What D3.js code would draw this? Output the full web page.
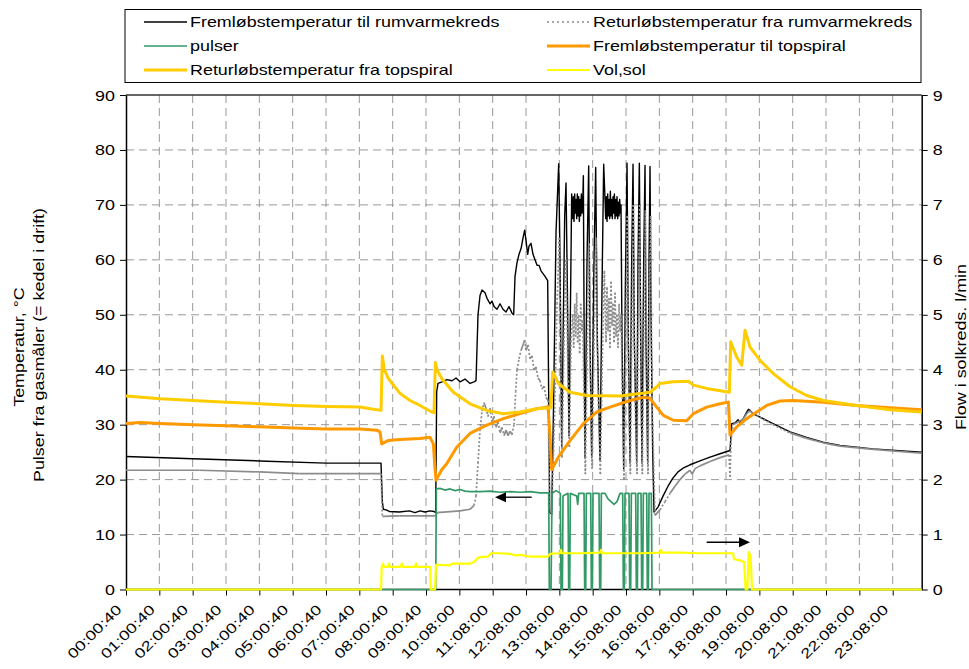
<!DOCTYPE html>
<html><head><meta charset="utf-8">
<script src="https://cdn.jsdelivr.net/npm/d3@7"></script>
<style>
body{margin:0;background:#fff}
svg{display:block}
text{font-family:"Liberation Sans",Arial,sans-serif;font-size:14px;fill:#000}
</style>
</head><body><svg id="c" width="969" height="669"></svg>
<script>
// ---------- DATA (t = hours along category axis, value) ----------
const xTickLabels = ["00:00:40","01:00:40","02:00:40","03:00:40","04:00:40","05:00:40","06:00:40","07:00:40","08:00:40","09:00:40","10:08:00","11:08:00","12:08:00","13:08:00","14:08:00","15:08:00","16:08:00","17:08:00","18:08:00","19:08:00","20:08:00","21:08:00","22:08:00","23:08:00"];
const leftTicks = [0,10,20,30,40,50,60,70,80,90];
const rightTicks = [0,1,2,3,4,5,6,7,8,9];
const seriesNames = ["Fremløbstemperatur til rumvarmekreds","Returløbstemperatur fra rumvarmekreds","pulser","Fremløbstemperatur til topspiral","Returløbstemperatur fra topspiral","Vol,sol"];

const fremRum = [[0,24.2],[2,23.8],[4,23.4],[6,23.0],[7.65,23.0],[7.69,16],[7.72,14.6],[7.8,14.5],[7.9,14.2],[8.2,14.1],[8.5,14.3],[8.67,14.0],[8.82,14.3],[8.97,14.1],[9.12,14.3],[9.24,14.2],[9.29,14.0],[9.32,36],[9.36,37.5],[9.48,37.8],[9.63,38.2],[9.78,38.0],[9.90,38.5],[10.02,37.8],[10.17,38.3],[10.32,37.5],[10.44,37.8],[10.50,38.0],[10.53,44],[10.56,50],[10.62,53.5],[10.68,54.5],[10.77,54],[10.83,53],[10.92,52],[10.98,52.5],[11.04,51.5],[11.13,51],[11.22,52],[11.31,51],[11.40,50.5],[11.49,51.5],[11.58,50.3],[11.63,50.0],[11.67,57],[11.73,59.5],[11.79,61],[11.85,62],[11.91,64],[11.96,65.4],[12.00,63.5],[12.05,61],[12.09,62.5],[12.15,63],[12.21,61],[12.27,60],[12.33,59],[12.39,59],[12.45,58],[12.51,57.5],[12.57,57],[12.65,56.2],
[12.71,14],[12.77,13.8],[12.83,35],[12.90,65],[12.98,77.5],[13.02,60],[13.07,26],[13.10,40],[13.16,68],[13.20,74],[13.24,55],[13.29,28],[13.33,50],[13.37,72],
[13.40,67.5],[13.42,71.5],[13.44,67],[13.46,72],[13.48,68.5],[13.50,71],[13.52,67.5],[13.54,72],[13.56,68],[13.58,71.5],[13.60,67],[13.62,71],[13.64,68],[13.66,72],[13.68,68.5],[13.70,70],
[13.72,75.3],[13.745,45],[13.77,24],[13.83,60],[13.88,77.1],[13.92,45],[13.97,24],[14.04,60],[14.09,76.8],[14.14,45],[14.22,23.5],[14.28,55],[14.33,77.4],[14.37,71],
[14.39,67.5],[14.41,71.5],[14.43,67],[14.45,72],[14.47,68],[14.49,71],[14.51,67.5],[14.53,72.5],[14.55,68],[14.57,71],[14.59,67.5],[14.61,71.5],[14.63,68.5],[14.65,72],[14.67,67.5],[14.69,71],[14.71,68],[14.73,71.5],[14.75,67.5],[14.77,70.5],[14.79,68],[14.81,71],[14.83,68.5],[14.85,70],
[14.88,45],[14.93,22],[14.98,55],[15.03,77.6],[15.07,45],[15.12,23],[15.17,60],[15.21,77.4],[15.25,45],[15.32,23],[15.36,60],[15.40,77.6],[15.44,45],[15.48,23],[15.53,60],[15.57,77.2],[15.60,45],[15.65,23],[15.69,60],[15.72,77],[15.75,50],[15.80,25],[15.84,14.1],
[15.96,15],[16.11,17],[16.26,18.8],[16.41,20.3],[16.56,21.4],[16.74,22.2],[16.92,22.7],[17.22,23.4],[17.52,24.1],[17.82,24.7],[18.12,25.3],[18.17,30.2],[18.27,30.3],[18.36,30.9],[18.42,30.4],[18.51,31],[18.62,32.3],[18.67,32.8],[18.72,32.6],[18.81,32],[19.41,30.2],[19.92,28.7],[20.42,27.7],[20.91,26.8],[21.42,26.2],[22.41,25.6],[23.87,25.0]];

const returRum = [[0,21.7],[2.2,21.7],[4.0,21.4],[5.2,21.1],[7.65,21.1],[7.69,13.3],[8.2,13.4],[9.29,13.4],[9.33,14.0],[10.02,14.3],[10.32,14.6],[10.44,15.3],[10.50,17],[10.56,23],[10.62,29],[10.68,32.5],[10.74,34],[10.80,33],[10.86,31.5],[10.92,33],[10.98,30.5],[11.04,31.5],[11.10,29.5],[11.16,30.5],[11.22,28.5],[11.28,29.5],[11.34,28],[11.40,29],[11.46,28],[11.52,28.8],[11.58,28.2],[11.64,30],[11.69,36],[11.73,40],[11.79,42],[11.85,43.5],[11.91,44.5],[11.96,45.4],[12.00,43.5],[12.06,44.5],[12.12,42],[12.18,42.5],[12.24,40],[12.30,40.5],[12.36,38.5],[12.42,38],[12.48,36.5],[12.54,37],[12.60,35],[12.66,34.4],
[12.71,15],[12.77,13.5],[12.85,30],[12.93,52],[13.00,64],[13.04,45],[13.08,24],[13.14,45],[13.20,60],[13.26,38],[13.30,26],[13.35,45],
[13.40,50],[13.43,44],[13.46,52],[13.49,46],[13.52,54],[13.55,45],[13.58,50],[13.61,43],[13.64,52],[13.67,47],[13.70,49],
[13.74,35],[13.78,21],[13.84,45],[13.89,63],[13.94,36],[13.98,22],[14.05,48],[14.10,64],[14.16,36],[14.23,21],[14.30,45],[14.35,58],
[14.40,45],[14.43,55],[14.46,47],[14.49,53],[14.52,44],[14.55,56],[14.58,48],[14.61,52],[14.64,45],[14.67,54],[14.70,46],[14.73,50],[14.76,44],[14.79,52],[14.82,47],[14.85,50],
[14.89,35],[14.94,20],[14.99,45],[15.04,68],[15.08,35],[15.13,21],[15.18,50],[15.22,70],[15.27,35],[15.33,21],[15.37,50],[15.41,70],[15.45,35],[15.49,21],[15.54,50],[15.58,69],[15.62,35],[15.66,21],[15.70,55],[15.74,68],[15.78,35],[15.87,13.5],
[16.02,14.5],[16.17,16],[16.32,17.5],[16.47,18.8],[16.62,20],[16.77,21],[16.92,21.7],[16.98,21],[17.07,22],[17.22,22.5],[17.52,23.3],[17.82,24],[18.09,24.5],[18.12,20.5],[18.15,27],[18.21,30],[18.36,30.5],[18.51,31],[18.62,32],[18.72,32.5],[18.81,32],[19.41,30],[19.92,28.5],[20.42,27.5],[20.91,26.7],[21.42,26.1],[22.41,25.5],[23.87,24.8]];

const pulser = [[0,0],[9.29,0],[9.31,18.3],[9.42,18.4],[9.57,18.1],[9.72,18.3],[9.87,18.0],[10.02,18.2],[10.17,17.9],[10.32,17.8],[10.62,17.8],[10.92,17.9],[11.22,17.7],[11.52,17.8],[11.82,17.7],[12.12,17.8],[12.42,17.6],[12.68,17.6],
[12.70,0],[12.75,0],[12.78,17.5],[12.90,18],[13.03,17.5],[13.05,0],[13.09,0],[13.11,17],[13.26,17.5],[13.28,0],[13.31,0],[13.33,17.5],[13.52,17],[13.55,15.5],[13.58,17.5],[13.74,17.5],[13.76,0],[13.79,0],[13.81,17.5],[13.94,17.5],[13.96,0],[13.99,0],[14.01,17.5],[14.19,17.5],[14.21,0],[14.24,0],[14.26,17.5],[14.37,17.5],[14.46,16.5],[14.55,16],[14.64,15.5],[14.73,16],[14.82,17.5],[14.90,17.5],[14.92,0],[14.95,0],[14.97,17.5],[15.09,17.5],[15.11,0],[15.14,0],[15.16,17.5],[15.29,17.5],[15.31,0],[15.34,0],[15.36,17.5],[15.45,17.5],[15.47,0],[15.50,0],[15.52,17.5],[15.62,17.5],[15.64,0],[15.67,0],[15.69,17.5],[15.76,17.5],[15.78,0],[23.87,0]];

const fremTop = [[0,30.2],[0.42,30.4],[1.02,30.2],[2.02,30.0],[3.02,29.8],[4.02,29.6],[5.02,29.4],[6.02,29.2],[7.02,29.2],[7.52,29.0],[7.62,28.7],[7.67,26.5],[7.86,27.1],[8.22,27.3],[8.82,27.5],[9.12,27.7],[9.22,26.5],[9.27,22],[9.30,19.9],[9.47,21.8],[9.62,22.9],[9.92,25.9],[10.32,28.4],[10.82,29.9],[11.32,31.1],[11.82,32.0],[12.32,32.9],[12.66,33.2],[12.72,28],[12.77,21.8],[12.97,24.1],[13.32,27.1],[13.72,30.2],[14.12,32.3],[14.52,33.2],[15.12,34.4],[15.52,35.0],[15.72,34.8],[15.92,33.2],[16.12,31.7],[16.42,30.8],[16.82,30.7],[17.02,32.0],[17.42,33.2],[17.82,33.8],[18.07,34.1],[18.12,28.1],[18.32,29.6],[18.62,31.1],[18.92,32.3],[19.22,33.5],[19.62,34.3],[20.02,34.4],[20.92,34.1],[21.92,33.5],[22.92,33.1],[23.87,32.7]];

const returTop = [[0,35.2],[1.02,34.7],[2.02,34.4],[3.02,34.1],[4.02,33.8],[5.02,33.5],[6.02,33.3],[7.02,33.2],[7.32,32.9],[7.65,32.6],[7.69,42.5],[7.75,40],[7.86,38.5],[7.92,38],[8.22,35.7],[8.52,34.4],[8.82,33.5],[9.17,32.3],[9.24,32.2],[9.28,41.3],[9.33,40],[9.47,38.4],[9.82,35.9],[10.32,33.8],[10.82,32.6],[11.32,32.0],[11.82,32.3],[12.32,32.9],[12.75,33.1],[12.80,39.6],[12.97,37.5],[13.32,35.9],[13.82,35.3],[14.82,35.2],[15.72,35.9],[15.92,36.9],[16.02,37.5],[16.42,37.8],[16.87,37.9],[17.02,37.2],[17.42,36.6],[18.10,35.9],[18.14,45.1],[18.32,42.3],[18.47,40.8],[18.57,47.2],[18.72,44.1],[19.02,41.7],[19.42,39.3],[19.92,36.9],[20.42,35.3],[20.92,34.4],[21.92,33.5],[22.92,32.7],[23.87,32.3]];

const volSol = [[0,0],[7.65,0],[7.67,0.41],[7.71,0.47],[7.74,0.41],[7.86,0.41],[7.89,0.47],[7.92,0.41],[8.22,0.41],[8.28,0.47],[8.31,0.41],[8.67,0.41],[8.70,0.47],[8.73,0.41],[9.12,0.41],[9.14,0],[9.27,0],[9.30,0.45],[9.72,0.44],[9.78,0.47],[10.32,0.47],[10.44,0.5],[10.53,0.56],[10.62,0.59],[10.86,0.6],[10.95,0.66],[11.22,0.66],[11.52,0.65],[11.67,0.62],[11.82,0.63],[12.12,0.6],[12.30,0.6],[12.66,0.6],[12.72,0.65],[13.02,0.66],[13.05,0.72],[13.08,0.66],[13.62,0.66],[14.22,0.67],[14.25,0.72],[14.28,0.66],[14.82,0.66],[15.42,0.66],[16.02,0.67],[16.05,0.72],[16.08,0.67],[16.62,0.67],[17.22,0.66],[17.82,0.66],[18.21,0.66],[18.24,0.55],[18.42,0.53],[18.54,0.5],[18.59,0],[18.64,0],[18.68,0.68],[18.74,0.6],[18.78,0],[23.87,0]];

// ---------- LAYOUT ----------
const L=126, R=921.7, T=95, B=589.5, SX=1.28;
const x = d3.scaleLinear().domain([0,23.87]).range([L,R]);
const yL = d3.scaleLinear().domain([0,90]).range([B,T]);
const yR = d3.scaleLinear().domain([0,9]).range([B,T]);
const svg = d3.select("#c");

// gridlines
const grid = svg.append("g").attr("stroke","#999").attr("stroke-width",1).attr("stroke-dasharray","8,5");
grid.selectAll("line.h").data(leftTicks.filter(v=>v>0&&v<90)).join("line")
  .attr("x1",L).attr("x2",R).attr("y1",d=>yL(d)).attr("y2",d=>yL(d));
grid.selectAll("line.v").data(d3.range(1,24)).join("line")
  .attr("y1",T).attr("y2",B).attr("x1",d=>x(d)).attr("x2",d=>x(d));

// top border
svg.append("line").attr("x1",L).attr("x2",R).attr("y1",T).attr("y2",T).attr("stroke","#333").attr("stroke-width",1.5);

// axes
const axL = svg.append("g").attr("transform",`translate(${L},0)`)
  .call(d3.axisLeft(yL).tickValues(leftTicks).tickSize(6).tickSizeOuter(0).tickFormat(d3.format("d")));
const axR = svg.append("g").attr("transform",`translate(${R},0)`)
  .call(d3.axisRight(yR).tickValues(rightTicks).tickSize(6).tickSizeOuter(0).tickFormat(d3.format("d")));
const axB = svg.append("g").attr("transform",`translate(0,${B})`)
  .call(d3.axisBottom(x).tickValues(d3.range(0,24)).tickSize(6).tickSizeOuter(0).tickFormat(i=>xTickLabels[i]));
[axL,axR,axB].forEach(a=>{
  a.select(".domain").attr("stroke","#000").attr("stroke-width",1.5);
  a.selectAll(".tick line").attr("stroke","#000");
  a.selectAll("text").attr("font-size",null).attr("font-family",null).attr("fill","#000");
});
axL.selectAll(".tick text").attr("x",0).attr("dy","0.36em").attr("transform",`translate(-11,0) scale(${SX},1)`);
axR.selectAll(".tick text").attr("x",0).attr("dy","0.36em").attr("transform",`translate(11,0) scale(${SX},1)`);
axB.selectAll(".tick text").attr("x",0).attr("y",0).attr("dy",0).attr("text-anchor","end")
  .attr("transform",`translate(-4,21) rotate(-45) scale(${SX},1)`);
axB.select(".domain").attr("d",`M${L},0H${R}`);

// axis titles
function txt(str, px, py, rot, anchor){
  return svg.append("text").attr("text-anchor",anchor)
    .attr("transform",`translate(${px},${py}) rotate(${rot}) scale(${SX},1)`).text(str);
}
txt("Temperatur, °C", 24, 347, -90, "middle");
txt("Pulser fra gasmåler (= kedel i drift)", 44, 345, -90, "middle");
txt("Flow i solkreds. l/min", 966, 347, -90, "middle");

// series
const lineL = d3.line().x(d=>x(d[0])).y(d=>yL(d[1]));
const lineR = d3.line().x(d=>x(d[0])).y(d=>yR(d[1]));
const plot = svg.append("g").attr("fill","none").attr("stroke-linejoin","round");

plot.append("path").datum(fremRum).attr("d",lineL).attr("stroke","#000").attr("stroke-width",1.4);
// dotted return series: per-segment dash, long steep segments show dots
plot.selectAll("path.ret").data(d3.pairs(returRum)).join("path").attr("class","ret")
  .attr("d",lineL).attr("stroke","#8c8c8c").attr("stroke-width",1.7)
  .attr("stroke-dasharray",s=>Math.abs(yL(s[1][1])-yL(s[0][1]))>8?"2,2":null);
plot.append("path").datum(pulser).attr("d",lineL).attr("stroke","#339966").attr("stroke-width",1.7);
plot.append("path").datum(fremTop).attr("d",lineL).attr("stroke","#FF9900").attr("stroke-width",3);
plot.append("path").datum(returTop).attr("d",lineL).attr("stroke","#FFCC00").attr("stroke-width",3);
plot.append("path").datum(volSol).attr("d",lineR).attr("stroke","#FFFF00").attr("stroke-width",2.2);

// arrows (annotation)
function arrow(t0, t1, yv, sc){
  const y = sc(yv), x0 = x(t0), x1 = x(t1), dir = Math.sign(x1-x0);
  svg.append("line").attr("x1",x0).attr("x2",x1-dir*10).attr("y1",y).attr("y2",y).attr("stroke","#000").attr("stroke-width",1.3);
  svg.append("path").attr("d",`M${x1},${y}L${x1-dir*11},${y-5}L${x1-dir*11},${y+5}Z`).attr("fill","#000");
}
arrow(12.17, 11.07, 16.8, yL);
arrow(17.42, 18.72, 0.86, yR);

// legend
const lg = svg.append("g");
lg.append("rect").attr("x",125).attr("y",9.5).attr("width",796).attr("height",73).attr("fill","#fff").attr("stroke","#000").attr("stroke-width",1);
const legStyles = [
  {c:"#000",w:1.4,d:null},{c:"#8c8c8c",w:1.7,d:"2,3"},{c:"#339966",w:1.7,d:null},
  {c:"#FF9900",w:3,d:null},{c:"#FFCC00",w:3,d:null},{c:"#FFFF00",w:2,d:null}];
seriesNames.forEach((n,i)=>{
  const col = i%2, row = Math.floor(i/2);
  const lx = col? 547 : 144, ty = 22 + row*24;
  lg.append("line").attr("x1",lx).attr("x2",lx+43).attr("y1",ty).attr("y2",ty)
    .attr("stroke",legStyles[i].c).attr("stroke-width",legStyles[i].w).attr("stroke-dasharray",legStyles[i].d);
  lg.append("text").attr("transform",`translate(${lx+46},${ty+5}) scale(${SX},1)`).text(n);
});
</script>
</body></html>
